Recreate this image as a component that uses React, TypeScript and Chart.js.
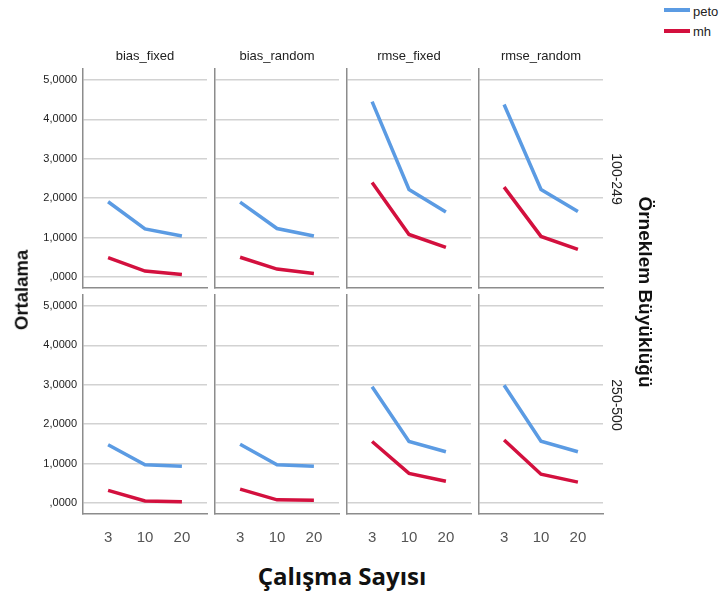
import React, { useEffect, useRef } from "react";
import { Chart, registerables } from "chart.js";

Chart.register(...registerables);

// ---- data ----
const studyCounts = ["3", "10", "20"];
const columnTitles = ["bias_fixed", "bias_random", "rmse_fixed", "rmse_random"];
const rowTitles = ["100-249", "250-500"];
const yTicks = [0, 1, 2, 3, 4, 5];

// sample size 100-249
const petoBiasFixed1 = [1.91, 1.22, 1.04];
const mhBiasFixed1 = [0.49, 0.15, 0.06];
const petoBiasRandom1 = [1.9, 1.23, 1.04];
const mhBiasRandom1 = [0.5, 0.2, 0.09];
const petoRmseFixed1 = [4.45, 2.22, 1.65];
const mhRmseFixed1 = [2.4, 1.08, 0.75];
const petoRmseRandom1 = [4.38, 2.22, 1.66];
const mhRmseRandom1 = [2.28, 1.03, 0.7];

// sample size 250-500
const petoBiasFixed2 = [1.48, 0.97, 0.93];
const mhBiasFixed2 = [0.32, 0.05, 0.03];
const petoBiasRandom2 = [1.49, 0.97, 0.93];
const mhBiasRandom2 = [0.35, 0.08, 0.07];
const petoRmseFixed2 = [2.95, 1.56, 1.3];
const mhRmseFixed2 = [1.56, 0.75, 0.55];
const petoRmseRandom2 = [2.99, 1.57, 1.3];
const mhRmseRandom2 = [1.6, 0.73, 0.53];

const panels = [
  [
    [petoBiasFixed1, mhBiasFixed1],
    [petoBiasRandom1, mhBiasRandom1],
    [petoRmseFixed1, mhRmseFixed1],
    [petoRmseRandom1, mhRmseRandom1],
  ],
  [
    [petoBiasFixed2, mhBiasFixed2],
    [petoBiasRandom2, mhBiasRandom2],
    [petoRmseFixed2, mhRmseFixed2],
    [petoRmseRandom2, mhRmseRandom2],
  ],
];

// ---- style / layout ----
const BLUE = "#5B9BE3";
const RED = "#D3103E";
const FONT = "'Liberation Sans', Arial, sans-serif";
const colLefts = [83, 215, 347, 479];
const rowTops = [69, 295];
const PW = 124;
const PH = 219;
const MT = 16;
const MR = 8;

function fmt(v: number) {
  if (v === 0) return ",0000";
  return v.toFixed(4).replace(".", ",");
}

function Panel({ row, col }: { row: number; col: number }) {
  const ref = useRef<HTMLCanvasElement | null>(null);
  const ML = col === 0 ? 83 : 8;
  const MB = row === 1 ? 44 : 16;
  const w = ML + PW + MR;
  const h = MT + PH + MB;
  const left = colLefts[col] - ML;
  const top = rowTops[row] - MT;
  useEffect(() => {
    const [peto, mh] = panels[row][col];
    const chart = new Chart(ref.current as HTMLCanvasElement, {
      type: "line",
      data: {
        datasets: [
          {
            label: "peto",
            data: peto.map((v, i) => ({ x: i, y: v })),
            borderColor: BLUE,
            borderWidth: 3.5,
            pointRadius: 0,
            tension: 0,
            fill: false,
          },
          {
            label: "mh",
            data: mh.map((v, i) => ({ x: i, y: v })),
            borderColor: RED,
            borderWidth: 3.5,
            pointRadius: 0,
            tension: 0,
            fill: false,
          },
        ],
      },
      options: {
        responsive: false,
        animation: false,
        events: [],
        layout: { padding: { top: MT, right: MR, left: 0, bottom: 0 } },
        plugins: { legend: { display: false }, tooltip: { enabled: false } },
        scales: {
          x: {
            type: "linear",
            min: -0.68,
            max: 2.68,
            afterBuildTicks: (s: any) => {
              s.ticks = [0, 1, 2].map((v) => ({ value: v }));
            },
            afterFit: (s: any) => {
              s.height = MB;
            },
            grid: { display: false, drawTicks: false },
            border: { display: true, color: "#8c8c8c", width: 1.5 },
            ticks: {
              display: row === 1,
              autoSkip: false,
              maxRotation: 0,
              padding: 15,
              color: "#555",
              font: { family: FONT, size: 15 },
              callback: (v: any) => studyCounts[v] ?? "",
            },
          },
          y: {
            type: "linear",
            min: -0.28,
            max: 5.28,
            afterBuildTicks: (s: any) => {
              s.ticks = yTicks.map((v) => ({ value: v }));
            },
            afterFit: (s: any) => {
              s.width = ML;
            },
            grid: { color: "#d2d2d2", lineWidth: 1.5, drawTicks: false },
            border: { display: true, color: "#8c8c8c", width: 1.5 },
            ticks: {
              display: col === 0,
              padding: 6,
              color: "#222",
              font: { family: FONT, size: 11 },
              callback: (v: any) => fmt(Number(v)),
            },
          },
        },
      },
    } as any);
    return () => chart.destroy();
  }, []);
  return (
    <canvas
      ref={ref}
      width={w}
      height={h}
      style={{ position: "absolute", left, top, width: w, height: h }}
    />
  );
}

const textBase: React.CSSProperties = {
  position: "absolute",
  whiteSpace: "nowrap",
  lineHeight: 1,
  fontFamily: FONT,
  color: "#222",
};

function Label({
  x,
  y,
  text,
  size,
  bold,
  rot,
  family,
  color,
}: {
  x: number;
  y: number;
  text: string;
  size: number;
  bold?: boolean;
  rot?: number;
  family?: string;
  color?: string;
}) {
  return (
    <div
      style={{
        ...textBase,
        left: x,
        top: y,
        fontSize: size,
        fontWeight: bold ? 700 : 400,
        fontFamily: family || FONT,
        color: color || (bold ? "#111" : "#222"),
        transform: `translate(-50%, -50%) rotate(${rot || 0}deg)`,
      }}
    >
      {text}
    </div>
  );
}

export default function App() {
  return (
    <div
      style={{
        position: "absolute",
        left: 0,
        top: 0,
        width: 721,
        height: 599,
        background: "#fff",
        overflow: "hidden",
      }}
    >
      {[0, 1].map((r) =>
        [0, 1, 2, 3].map((c) => <Panel key={`${r}-${c}`} row={r} col={c} />)
      )}
      {columnTitles.map((t, i) => (
        <Label key={t} x={colLefts[i] + PW / 2} y={55} text={t} size={13} />
      ))}
      {rowTitles.map((t, i) => (
        <Label key={t} x={617} y={rowTops[i] + PH / 2} text={t} size={14} rot={90} />
      ))}
      <Label x={22} y={290} text="Ortalama" size={18.5} bold rot={-90} />
      <Label x={645} y={292} text="Örneklem Büyüklüğü" size={19} bold rot={90} />
      <Label
        x={342}
        y={576}
        text="Çalışma Sayısı"
        size={24}
        bold
        family="'Open Sans', 'Liberation Sans', sans-serif"
      />
      {/* legend */}
      <div style={{ position: "absolute", left: 664, top: 8, width: 26, height: 4, background: BLUE }} />
      <div style={{ ...textBase, left: 693, top: 5, fontSize: 13 }}>peto</div>
      <div style={{ position: "absolute", left: 664, top: 29, width: 26, height: 4, background: RED }} />
      <div style={{ ...textBase, left: 693, top: 25, fontSize: 13 }}>mh</div>
    </div>
  );
}
